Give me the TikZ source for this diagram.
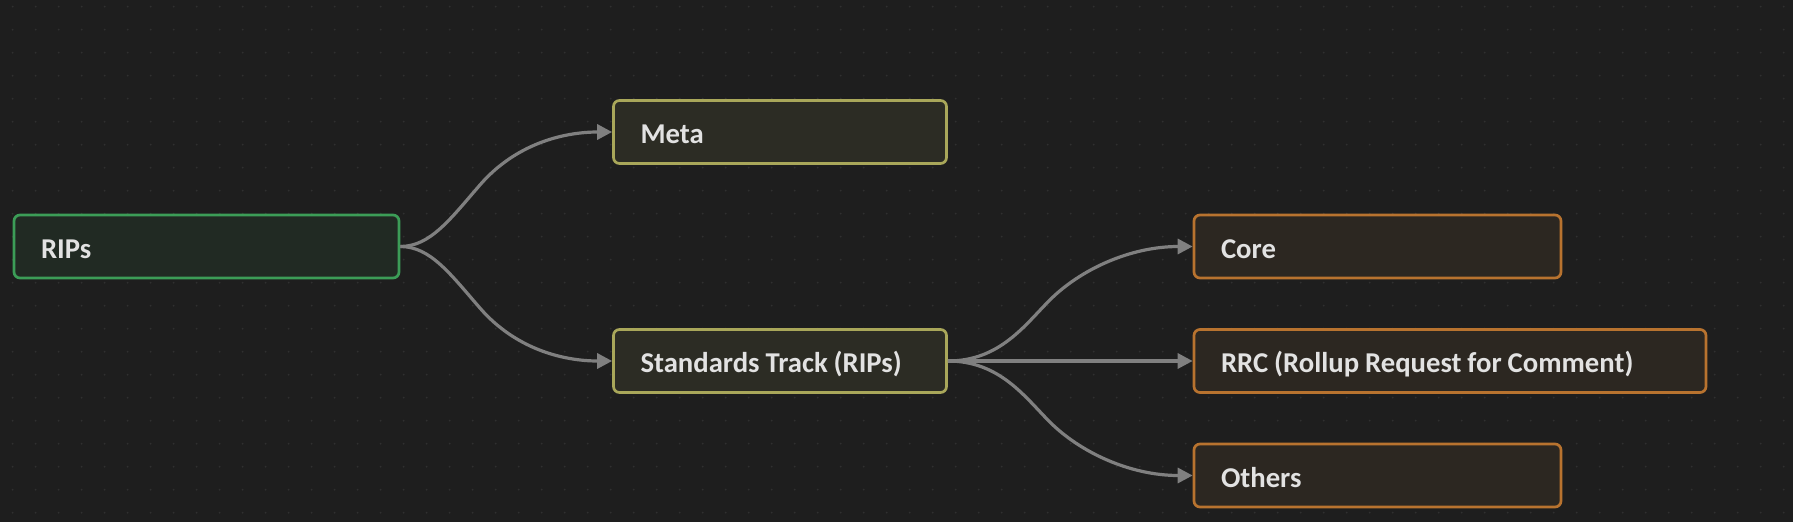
\documentclass[tikz,border=0pt]{standalone}
\usepackage{fontspec}
\setmainfont{Carlito}
\usetikzlibrary{arrows.meta}
\definecolor{bgc}{HTML}{1E1E1E}
\definecolor{dotc}{HTML}{303030}
\definecolor{txtc}{HTML}{E2E2E2}
\definecolor{edgec}{HTML}{808080}
\definecolor{greenb}{HTML}{3C9D57}
\definecolor{greenf}{HTML}{212A23}
\definecolor{oliveb}{HTML}{A9A75A}
\definecolor{olivef}{HTML}{2C2C24}
\definecolor{orangeb}{HTML}{B8732F}
\definecolor{orangef}{HTML}{2C2721}
\tikzset{
  box/.style={rectangle, rounded corners=6pt, line width=2.7pt, minimum height=63pt,
    inner xsep=27pt, inner ysep=0pt, align=left, text=txtc,
    font=\fontsize{28.7}{30}\selectfont\bfseries, text height=27pt, text depth=4pt,
    execute at begin node={\spaceskip=5.9pt plus 1pt\relax}},
  rootbox/.style={box, draw=greenb, fill=greenf},
  midbox/.style={box, draw=oliveb, fill=olivef},
  leafbox/.style={box, draw=orangeb, fill=orangef},
  edge/.style={draw=edgec, line width=3.2pt, -{Triangle[length=15pt,width=15pt]}},
}
\begin{document}
\begin{tikzpicture}[x=1pt,y=-1pt]
\fill[bgc] (0,0) rectangle (1793,522);
\useasboundingbox (0,0) rectangle (1793,522);
\foreach \i in {0,...,77} {
  \foreach \j in {0,...,22} {
    \fill[dotc] (12.7+23*\i, 6.7+23*\j) circle (1pt);
  }
}
\node[rootbox, text width=331pt] (rips) at (206.5,246.5) {RIPs};
\node[midbox, text width=279pt] (meta) at (780,132) {Meta};
\node[midbox, text width=279pt] (std) at (780,361) {Standards Track (RIPs)};
\node[leafbox, text width=313pt] (core) at (1377.5,246.5) {Core};
\node[leafbox, text width=458pt] (rrc) at (1450,361) {RRC (Rollup Request for Comment)};
\node[leafbox, text width=313pt] (others) at (1377.5,475.5) {Others};

\draw[edge] (rips.east) .. controls +(30,0) and +(-30,34.5) .. ++(80,-62)
  .. controls +(35,-40) and +(-50,0) .. (meta.west);
\draw[edge] (rips.east) .. controls +(30,0) and +(-30,-34.5) .. ++(80,62)
  .. controls +(35,40) and +(-50,0) .. (std.west);
\draw[edge] (std.east) .. controls +(52,0) and +(-25,25) .. ++(102,-61)
  .. controls +(30,-30) and +(-63,0) .. (core.west);
\draw[edge] (std.east) -- (rrc.west);
\draw[edge] (std.east) .. controls +(52,0) and +(-25,-25) .. ++(102,61)
  .. controls +(30,30) and +(-63,0) .. (others.west);
\end{tikzpicture}
\end{document}
